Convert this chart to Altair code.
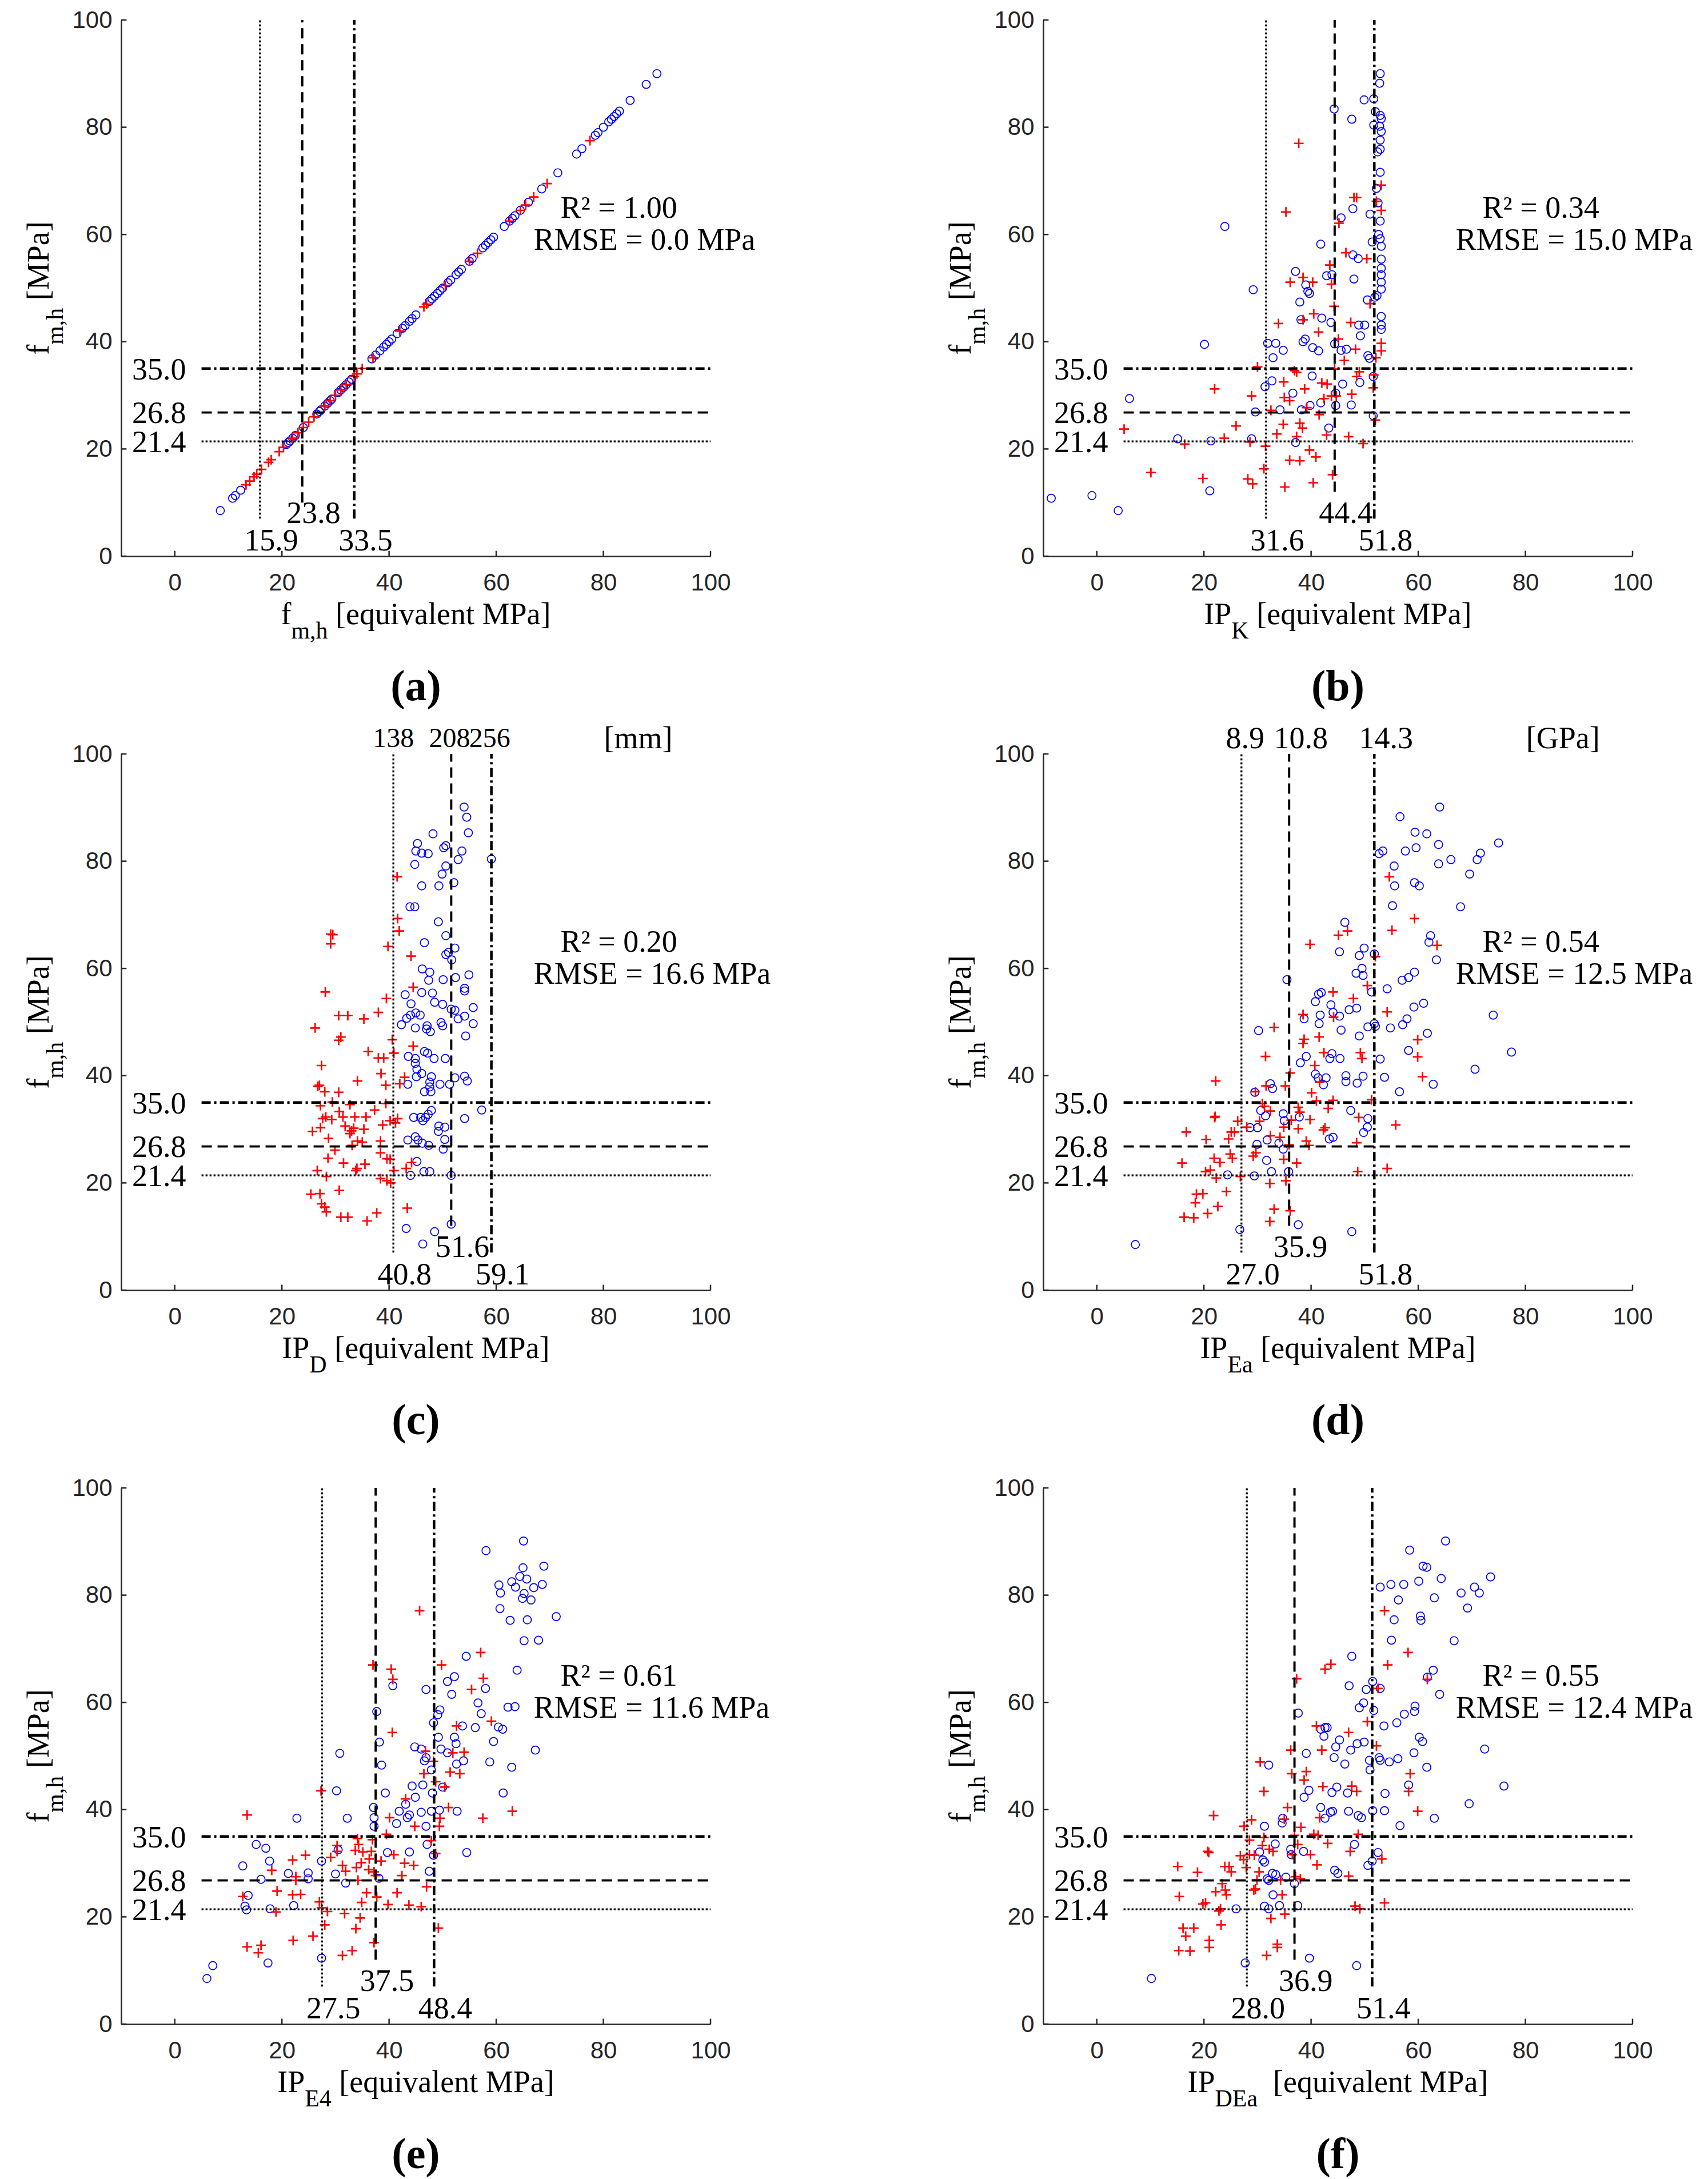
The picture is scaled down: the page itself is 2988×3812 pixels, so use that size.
import altair as alt
import pandas as pd

# ---- fm,h values (blue = circles, red = plus) ----
# panel (a): f_m,h plotted against itself, so x = y
a_blue = [8.5, 10.8, 11.3, 12.3, 20.8, 21.2, 21.5, 22.0, 22.5, 24.0, 26.5, 27.0, 27.3, 28.0,
          28.5, 29.0, 29.3, 30.5, 31.0, 31.5, 32.0, 32.5, 33.0, 36.8, 37.5, 38.3, 39.0, 39.5,
          40.0, 40.5, 41.5, 42.5, 43.0, 43.8, 44.3, 45.0, 47.5, 48.0, 48.5, 49.0, 49.5, 50.0,
          51.0, 51.5, 52.5, 53.0, 53.5, 55.0, 55.5, 57.5, 58.0, 58.5, 59.0, 59.5, 61.5, 62.5,
          63.0, 63.5, 64.5, 66.0, 68.5, 71.5, 75.0, 76.0, 78.5, 79.0, 80.0, 81.0, 81.5, 82.0,
          82.5, 83.0, 85.0, 88.0, 90.0]
a_red = [13.3, 14.0, 14.8, 15.3, 16.2, 17.5, 18.0, 19.5, 20.3, 22.0, 23.0, 24.0, 25.0, 26.0,
         28.0, 29.0, 30.0, 31.0, 32.0, 33.5, 34.0, 35.0, 37.0, 42.0, 46.5, 47.0, 50.5, 55.0,
         56.5, 62.5, 64.5, 65.5, 67.0, 69.5, 77.5]

b_blue = [(-8.5, 10.8), (-0.9, 11.3), (4.0, 8.5), (6.1, 29.4), (15.1, 21.9), (20.1, 39.5),
          (21.3, 21.5), (21.1, 12.2), (23.9, 61.5), (28.9, 21.9), (29.2, 49.7), (29.6, 26.9),
          (31.4, 31.6), (31.9, 39.7), (32.7, 32.7), (32.9, 37.0), (33.4, 39.7), (34.2, 27.3),
          (34.8, 38.4), (36.6, 30.4), (37.1, 53.1), (37.1, 21.2), (37.9, 47.4), (38.1, 44.1),
          (38.2, 27.3), (38.5, 40.0), (38.9, 40.5), (39.0, 50.6), (39.4, 49.4), (39.7, 49.0),
          (39.8, 28.1), (40.2, 33.6), (40.3, 38.9), (41.4, 38.3), (41.8, 58.2), (41.8, 28.6),
          (42.0, 44.4), (42.9, 52.3), (43.3, 23.9), (43.7, 43.6), (43.9, 52.5), (44.3, 83.4),
          (44.4, 39.6), (44.6, 30.4), (44.6, 28.1), (45.6, 63.1), (45.6, 38.4), (45.9, 32.1),
          (46.6, 38.6), (47.5, 28.2), (47.6, 81.5), (47.8, 64.8), (47.8, 56.2), (48.0, 51.7),
          (48.8, 55.5), (48.9, 43.1), (49.2, 41.1), (49.1, 32.4), (49.9, 85.1), (50.0, 43.1),
          (50.5, 47.8), (50.6, 37.4), (50.9, 36.9), (51.0, 63.8), (51.4, 58.6), (51.6, 33.5),
          (51.6, 26.2), (51.7, 85.3), (51.7, 80.4), (51.9, 48.3), (52.0, 82.9), (52.2, 68.6),
          (52.3, 48.6), (52.4, 75.4), (52.5, 65.9), (52.6, 60.0), (52.8, 88.2), (52.9, 90.0),
          (52.9, 82.2), (53.1, 81.6), (53.1, 79.2), (52.9, 77.6), (52.9, 75.9), (52.9, 71.6),
          (52.9, 62.5), (52.9, 59.2), (53.1, 57.8), (53.1, 55.4), (53.1, 53.7), (53.1, 52.5),
          (53.1, 51.1), (53.1, 49.8), (53.1, 44.7), (53.1, 43.1), (53.1, 42.3), (52.8, 80.2)]
b_red = [(5.1, 23.7), (10.1, 15.6), (16.4, 20.9), (19.8, 14.5), (22.0, 31.2), (23.8, 22.0),
         (26.0, 24.3), (28.2, 14.4), (28.6, 21.3), (28.9, 29.9), (29.1, 13.5), (30.0, 35.3),
         (31.2, 16.3), (31.5, 20.5), (32.5, 27.2), (33.6, 22.8), (33.9, 43.4), (34.8, 24.6),
         (35.1, 12.9), (35.3, 64.2), (35.0, 29.6), (34.9, 32.5), (36.0, 29.0), (36.1, 51.1),
         (36.0, 17.9), (36.9, 34.6), (37.3, 34.3), (37.3, 22.3), (37.7, 77.0), (37.9, 17.8),
         (37.9, 24.8), (38.4, 23.9), (38.5, 52.0), (38.5, 44.1), (38.8, 31.2), (39.2, 27.7),
         (39.7, 19.8), (40.3, 51.1), (40.4, 13.7), (40.5, 45.2), (40.9, 18.5), (41.4, 41.8),
         (41.5, 26.4), (42.0, 32.3), (42.4, 29.4), (42.9, 22.6), (43.0, 32.1), (43.5, 54.3),
         (43.8, 50.7), (43.8, 29.9), (44.0, 15.2), (44.3, 46.6), (44.4, 34.9), (44.7, 29.9),
         (45.1, 40.5), (45.2, 62.1), (46.2, 36.5), (46.5, 56.6), (47.0, 22.3), (47.4, 43.6),
         (47.6, 30.2), (48.0, 66.9), (48.5, 66.9), (48.3, 38.6), (48.5, 33.5), (49.0, 34.4),
         (49.7, 21.0), (50.4, 55.5), (51.0, 47.1), (51.6, 31.4), (51.7, 33.8), (52.0, 25.4),
         (52.2, 66.2), (53.1, 69.2), (53.1, 64.5), (53.1, 39.7), (53.1, 38.3), (52.1, 37.0)]

c_blue = [(43.2, 11.5), (46.3, 8.6), (48.5, 10.9), (51.6, 12.3), (51.6, 21.4), (44.0, 21.4),
          (46.5, 22.1), (47.6, 22.1), (45.2, 24.0), (43.5, 28.0), (44.9, 28.6), (45.4, 28.0),
          (46.2, 27.4), (47.4, 27.0), (50.1, 26.3), (50.4, 28.1), (49.2, 29.6), (49.3, 30.6),
          (50.4, 30.4), (44.6, 32.2), (45.9, 32.2), (46.3, 31.6), (46.8, 32.2), (47.3, 32.8),
          (47.9, 33.5), (54.1, 32.0), (57.3, 33.6), (46.6, 37.0), (47.8, 37.0), (47.6, 37.9),
          (47.6, 38.8), (49.5, 38.4), (51.3, 38.4), (43.5, 38.4), (45.1, 39.8), (46.1, 40.4),
          (47.9, 39.8), (52.3, 39.6), (54.1, 39.9), (54.6, 39.0), (45.2, 41.2), (44.9, 42.3),
          (44.9, 43.2), (43.6, 43.6), (46.6, 44.5), (47.2, 44.2), (48.4, 43.2), (50.5, 43.2),
          (42.3, 49.5), (43.3, 50.7), (44.0, 51.3), (45.0, 51.7), (45.8, 51.3), (44.9, 48.9),
          (47.0, 48.7), (47.1, 49.3), (47.7, 48.2), (49.7, 49.9), (50.0, 49.3), (50.0, 53.3),
          (48.5, 53.7), (48.1, 55.4), (44.1, 53.4), (43.0, 55.1), (46.1, 55.5), (51.6, 52.4),
          (52.3, 52.2), (52.9, 50.6), (54.1, 51.1), (55.7, 52.7), (55.7, 49.7), (54.3, 47.4),
          (54.1, 56.3), (54.1, 55.8), (54.9, 58.8), (52.4, 58.3), (50.1, 57.9), (47.4, 57.8),
          (47.6, 59.3), (46.2, 59.9), (46.6, 64.8), (50.6, 62.6), (51.1, 63.0), (51.7, 61.6),
          (52.3, 63.8), (50.6, 66.1), (49.2, 68.7), (43.9, 71.5), (44.8, 71.5), (46.1, 75.4),
          (49.3, 75.4), (52.1, 76.0), (49.9, 77.6), (50.6, 79.1), (44.8, 79.4), (52.9, 80.3),
          (59.1, 80.4), (45.0, 81.9), (46.1, 81.5), (47.3, 81.4), (45.3, 83.3), (50.2, 82.5),
          (50.6, 82.9), (53.6, 81.9), (48.2, 85.1), (54.8, 85.3), (54.5, 88.2), (54.0, 90.1)]
c_red = [(25.4, 17.9), (27.1, 18.0), (27.4, 16.1), (28.0, 15.5), (28.3, 14.6), (30.7, 18.6),
         (31.0, 13.6), (32.3, 13.6), (35.9, 12.9), (37.7, 14.4), (43.4, 15.3), (28.3, 21.2),
         (26.6, 22.3), (31.5, 23.7), (29.9, 26.1), (28.6, 24.6), (34.0, 22.7), (33.8, 22.3),
         (35.5, 23.5), (38.4, 20.8), (39.6, 20.4), (40.3, 20.0), (40.9, 22.3), (43.2, 22.7),
         (44.2, 23.8), (39.6, 24.5), (38.4, 25.6), (40.2, 24.4), (25.7, 29.6), (27.2, 30.3),
         (27.6, 32.0), (28.2, 32.3), (28.7, 28.3), (29.3, 31.8), (30.7, 33.3), (31.4, 32.3),
         (31.8, 30.6), (32.7, 29.2), (33.0, 29.7), (33.6, 32.3), (33.4, 30.2), (34.1, 27.8),
         (33.1, 27.0), (35.0, 27.6), (35.3, 30.0), (35.7, 32.3), (37.3, 33.6), (38.8, 30.8),
         (38.4, 27.8), (40.2, 31.6), (41.2, 31.2), (41.6, 32.0), (39.4, 34.8), (27.2, 34.4),
         (29.4, 35.1), (32.7, 34.6), (30.6, 36.9), (28.0, 37.0), (27.0, 38.2), (26.7, 38.0),
         (34.1, 39.0), (39.4, 38.2), (38.5, 40.4), (42.0, 38.5), (42.9, 39.7), (27.4, 41.9),
         (36.1, 44.5), (38.0, 43.3), (39.0, 43.3), (40.9, 44.2), (44.5, 45.5), (40.6, 46.7),
         (30.6, 46.6), (31.0, 47.2), (26.2, 48.9), (35.3, 50.6), (38.0, 51.8), (30.6, 51.2),
         (32.3, 51.2), (39.5, 54.4), (44.5, 56.5), (28.1, 55.6), (39.8, 64.1), (44.1, 62.3),
         (29.1, 64.6), (29.1, 66.4), (29.5, 66.3), (41.9, 67.0), (41.6, 69.3), (41.5, 77.1)]

d_blue = [(7.2, 8.5), (26.7, 11.3), (37.6, 12.2), (47.6, 10.9), (24.4, 21.5), (29.4, 21.3),
          (32.6, 22.1), (35.8, 22.1), (31.7, 24.2), (34.8, 26.3), (34.0, 27.4), (29.9, 27.2),
          (31.8, 28.0), (43.4, 28.2), (44.1, 28.5), (30.6, 33.5), (31.5, 32.5), (34.8, 32.9),
          (35.0, 31.6), (37.8, 32.3), (28.6, 30.3), (30.0, 30.3), (47.4, 33.5), (49.8, 29.4),
          (50.5, 30.4), (50.6, 32.0), (29.5, 36.9), (32.4, 38.5), (32.8, 37.6), (38.0, 42.4),
          (39.1, 43.6), (40.8, 40.3), (41.3, 39.6), (42.3, 38.3), (42.8, 39.6), (43.5, 43.2),
          (43.9, 44.1), (45.4, 43.2), (46.5, 40.0), (46.5, 38.9), (48.6, 38.6), (49.7, 39.9),
          (53.7, 39.7), (56.5, 37.0), (62.8, 38.4), (52.9, 43.1), (58.2, 44.7), (61.7, 47.9),
          (57.1, 49.5), (54.8, 48.9), (57.9, 50.6), (59.2, 52.8), (61.0, 53.5), (30.2, 48.4),
          (38.7, 50.6), (41.5, 49.7), (41.7, 51.3), (44.1, 51.8), (45.3, 51.1), (45.6, 48.5),
          (47.1, 52.3), (48.5, 52.6), (49.0, 47.4), (50.6, 49.1), (51.8, 49.7), (52.0, 49.2),
          (40.8, 53.8), (41.4, 55.2), (41.9, 55.5), (43.7, 53.2), (51.3, 55.6), (54.2, 56.2),
          (35.5, 57.9), (48.4, 59.1), (49.7, 58.7), (49.5, 60.0), (49.0, 62.4), (49.9, 63.8),
          (51.8, 62.7), (45.3, 63.1), (46.3, 68.6), (57.0, 57.8), (58.2, 58.3), (59.3, 59.3),
          (63.4, 61.6), (62.0, 64.9), (62.3, 66.1), (55.2, 71.7), (67.9, 71.5), (55.6, 75.4),
          (59.3, 76.0), (60.2, 75.4), (69.6, 77.6), (55.5, 79.1), (63.8, 79.5), (66.1, 80.3),
          (71.0, 80.3), (71.6, 81.5), (52.7, 81.4), (53.4, 81.9), (57.6, 81.9), (59.6, 82.5),
          (63.8, 83.1), (75.0, 83.4), (59.4, 85.4), (61.6, 85.1), (56.6, 88.3), (64.0, 90.1),
          (74.0, 51.3), (77.4, 44.4), (70.6, 41.2)]
d_red = [(15.9, 23.7), (16.7, 29.5), (16.3, 13.6), (18.1, 13.5), (18.4, 16.3), (18.6, 17.9),
         (19.8, 18.0), (20.3, 22.1), (20.7, 14.3), (20.4, 28.1), (21.2, 22.4), (21.9, 24.6),
         (22.0, 32.2), (22.1, 32.4), (22.3, 20.9), (22.2, 39.0), (22.6, 15.6), (23.0, 23.8),
         (24.2, 18.4), (24.6, 28.2), (24.9, 25.4), (25.1, 29.5), (25.3, 24.6), (25.7, 29.5),
         (26.3, 31.5), (26.8, 21.2), (28.0, 30.4), (29.2, 25.0), (29.7, 25.6), (29.6, 37.0),
         (30.4, 31.5), (30.9, 34.8), (31.3, 34.3), (31.5, 43.6), (31.6, 38.1), (32.4, 28.8),
         (32.3, 19.9), (32.3, 12.8), (32.4, 33.4), (33.1, 15.1), (33.1, 49.0), (34.2, 28.5),
         (34.9, 30.4), (34.9, 24.4), (35.2, 38.1), (35.3, 20.4), (35.9, 27.1), (36.1, 14.8),
         (36.1, 40.5), (36.3, 31.7), (37.3, 23.7), (37.6, 34.1), (37.6, 30.1), (37.9, 33.2),
         (38.5, 51.4), (38.5, 46.0), (38.7, 46.8), (39.1, 27.8), (39.6, 27.0), (39.8, 31.8),
         (39.8, 64.5), (40.1, 36.8), (40.7, 41.9), (41.0, 35.3), (41.5, 47.2), (41.6, 38.8),
         (42.3, 29.9), (42.4, 44.3), (42.6, 30.3), (43.2, 33.9), (44.1, 55.6), (44.1, 35.4),
         (44.2, 50.9), (45.1, 66.2), (46.8, 67.0), (47.9, 54.4), (48.5, 27.5), (48.7, 22.1),
         (48.9, 32.2), (49.2, 44.3), (49.5, 43.2), (50.5, 56.8), (51.3, 35.5), (52.0, 62.2),
         (54.2, 51.9), (54.2, 22.7), (54.6, 77.1), (55.1, 67.1), (55.8, 30.8), (59.3, 69.3),
         (59.9, 46.7), (59.9, 43.5), (60.8, 39.8), (63.5, 64.3)]

e_blue = [(6.0, 8.5), (7.1, 10.9), (17.4, 11.4), (27.4, 12.3), (12.7, 29.5), (13.1, 22.0),
          (13.4, 21.3), (13.7, 24.0), (15.2, 33.5), (16.1, 27.0), (17.0, 32.8), (17.7, 30.4),
          (17.8, 21.5), (21.2, 28.1), (22.2, 22.1), (22.8, 38.4), (24.9, 28.2), (24.9, 27.1),
          (27.4, 30.4), (30.0, 28.0), (30.5, 32.5), (30.8, 50.5), (30.2, 43.5), (31.9, 26.3),
          (32.2, 38.4), (37.1, 40.4), (37.2, 38.5), (37.2, 36.9), (37.7, 58.3), (38.1, 27.2),
          (38.2, 52.6), (38.6, 48.3), (39.3, 43.1), (39.7, 32.0), (41.4, 37.4), (41.9, 39.7),
          (40.7, 63.1), (43.1, 41.0), (43.4, 38.5), (43.8, 39.0), (43.8, 32.1), (44.3, 44.4),
          (44.8, 51.7), (44.9, 42.3), (46.0, 51.3), (46.0, 39.5), (46.3, 44.6), (46.6, 49.1),
          (46.9, 49.7), (46.9, 36.9), (47.1, 33.5), (47.5, 28.5), (46.9, 62.4), (47.9, 39.7),
          (47.9, 47.4), (48.1, 43.1), (48.3, 56.2), (48.3, 31.5), (49.1, 57.7), (49.2, 53.5),
          (49.4, 39.9), (49.5, 58.6), (49.7, 51.3), (50.0, 44.2), (50.9, 63.9), (50.9, 50.6),
          (51.7, 61.5), (52.2, 64.8), (52.2, 53.5), (52.5, 52.3), (52.6, 48.5), (52.7, 39.7),
          (53.7, 55.6), (53.9, 49.1), (54.4, 68.6), (54.5, 32.0), (56.1, 55.3), (56.6, 59.9),
          (57.2, 57.9), (58.0, 62.6), (58.1, 88.3), (58.8, 48.9), (59.5, 52.7), (60.4, 55.4),
          (60.5, 81.9), (60.8, 80.4), (60.7, 77.5), (61.2, 55.0), (61.3, 43.1), (62.2, 59.1),
          (62.6, 75.3), (62.9, 47.9), (62.9, 82.5), (63.6, 81.5), (63.5, 59.2), (63.9, 66.0),
          (64.4, 83.5), (65.0, 85.1), (64.9, 79.4), (65.2, 80.3), (65.1, 90.1), (65.2, 71.5),
          (65.7, 83.0), (65.8, 75.4), (66.5, 79.1), (67.0, 81.4), (67.3, 51.1), (67.9, 71.6),
          (68.6, 82.0), (68.9, 85.4), (71.2, 76.0)]
e_red = [(12.7, 23.8), (13.5, 39.0), (13.5, 14.4), (15.6, 13.3), (16.1, 14.7), (18.1, 28.7),
         (18.9, 20.9), (19.1, 24.8), (22.0, 30.6), (22.0, 24.1), (22.1, 15.6), (22.6, 27.5),
         (22.6, 26.8), (23.5, 24.2), (24.4, 31.5), (25.8, 16.4), (27.3, 43.5), (27.0, 22.8),
         (27.4, 21.7), (28.0, 18.5), (28.5, 21.0), (29.1, 31.1), (30.3, 33.3), (30.3, 32.2),
         (31.3, 29.6), (31.3, 12.8), (31.7, 20.6), (31.9, 28.5), (33.1, 13.7), (33.7, 32.4),
         (33.8, 17.8), (33.9, 29.2), (34.1, 34.6), (34.2, 26.8), (34.3, 33.5), (34.6, 19.8),
         (34.8, 30.1), (34.9, 22.7), (35.1, 32.1), (35.8, 24.5), (36.2, 28.8), (36.3, 30.8),
         (36.7, 32.2), (36.9, 34.4), (37.0, 67.0), (37.2, 15.2), (37.2, 28.4), (37.5, 27.7),
         (37.7, 23.7), (38.5, 30.4), (39.5, 35.4), (39.8, 22.3), (40.1, 38.5), (40.4, 66.2),
         (40.7, 64.3), (40.6, 54.4), (40.9, 31.6), (41.5, 24.5), (42.4, 27.7), (42.9, 30.0),
         (43.1, 42.0), (43.7, 22.2), (44.6, 29.6), (44.8, 36.9), (45.7, 77.1), (46.0, 21.9),
         (46.5, 46.7), (46.8, 50.9), (47.0, 25.6), (47.9, 34.2), (48.3, 49.0), (48.7, 45.2),
         (48.7, 31.8), (49.2, 17.9), (49.4, 36.9), (49.5, 38.4), (49.8, 67.0), (50.4, 44.2),
         (51.1, 40.4), (51.4, 47.0), (51.9, 50.6), (52.6, 55.6), (53.2, 46.7), (54.0, 50.7),
         (55.4, 62.4), (57.1, 69.3), (57.5, 38.4), (57.6, 64.5), (59.1, 56.5), (63.0, 39.7)]

f_blue = [(10.2, 8.5), (27.7, 11.4), (39.7, 12.3), (48.5, 10.9), (26.0, 21.5), (31.3, 22.0),
          (32.1, 21.5), (34.1, 22.1), (37.5, 22.1), (32.9, 24.1), (36.9, 26.2), (31.8, 27.1),
          (32.1, 26.8), (32.8, 28.1), (33.4, 27.9), (35.3, 27.4), (44.4, 28.7), (45.0, 28.1),
          (30.4, 32.1), (31.0, 30.6), (31.3, 30.2), (33.3, 33.6), (36.2, 32.6), (36.3, 31.6),
          (38.6, 32.2), (48.1, 33.5), (50.6, 29.6), (51.4, 30.4), (52.5, 32.0), (31.3, 36.9),
          (34.7, 38.4), (34.6, 37.5), (38.7, 42.3), (39.6, 43.6), (41.8, 40.4), (42.6, 38.4),
          (43.6, 39.5), (44.0, 39.7), (43.9, 43.2), (44.8, 44.2), (46.8, 43.1), (47.0, 39.7),
          (48.8, 38.9), (49.4, 38.5), (51.5, 39.8), (53.7, 39.8), (53.8, 43.0), (56.6, 37.0),
          (63.0, 38.4), (58.2, 44.6), (61.6, 47.9), (54.6, 48.9), (56.2, 49.5), (59.2, 50.6),
          (60.8, 52.7), (60.2, 53.5), (32.1, 48.3), (39.1, 50.5), (44.3, 49.7), (44.6, 51.7),
          (45.3, 53.0), (46.3, 48.5), (47.4, 51.1), (48.6, 52.3), (49.9, 52.6), (50.9, 49.2),
          (51.0, 47.4), (52.7, 49.7), (52.9, 49.2), (42.4, 53.7), (41.8, 55.0), (42.6, 55.3),
          (43.0, 55.3), (53.6, 55.6), (56.0, 56.2), (57.4, 57.8), (59.3, 58.3), (59.4, 59.3),
          (37.6, 58.0), (49.0, 59.0), (49.8, 59.9), (51.7, 58.5), (50.3, 62.4), (51.5, 63.9),
          (52.9, 62.6), (47.1, 63.1), (64.0, 61.5), (61.7, 64.7), (62.8, 66.0), (47.6, 68.6),
          (55.0, 71.6), (66.7, 71.5), (55.5, 75.4), (60.4, 76.1), (60.5, 75.3), (69.2, 77.6),
          (56.3, 79.1), (63.0, 79.5), (68.0, 80.4), (71.4, 80.4), (70.5, 81.5), (52.9, 81.5),
          (54.9, 82.0), (57.3, 82.0), (60.1, 82.6), (64.3, 83.1), (73.5, 83.4), (60.9, 85.4),
          (61.6, 85.2), (58.4, 88.4), (65.1, 90.1), (72.4, 51.3), (76.0, 44.4), (69.5, 41.1)]
f_red = [(15.1, 29.4), (15.4, 23.8), (15.3, 13.7), (16.1, 17.9), (16.6, 16.4), (17.4, 13.6),
         (18.1, 17.9), (18.8, 28.3), (19.8, 22.4), (20.3, 22.6), (20.7, 32.2), (20.9, 32.0),
         (21.0, 15.6), (21.0, 14.3), (21.8, 38.9), (22.2, 24.7), (22.8, 21.1), (23.1, 21.5),
         (23.2, 18.5), (23.4, 26.2), (23.9, 29.4), (24.0, 25.0), (24.2, 24.1), (24.7, 29.4),
         (25.1, 28.4), (26.8, 31.4), (27.4, 30.7), (27.5, 36.9), (27.9, 29.2), (28.5, 31.6),
         (28.9, 38.1), (28.5, 34.3), (29.4, 31.5), (29.3, 25.0), (29.6, 25.2), (29.9, 26.9),
         (30.5, 48.9), (30.3, 28.4), (30.9, 33.3), (31.2, 43.4), (31.2, 34.8), (31.7, 12.8),
         (32.2, 32.6), (32.5, 19.7), (32.9, 32.2), (33.7, 14.9), (33.7, 14.3), (34.3, 26.9),
         (34.6, 24.1), (35.0, 38.2), (35.1, 20.5), (35.6, 40.4), (36.2, 51.1), (36.4, 46.7),
         (36.5, 31.6), (36.9, 35.2), (37.1, 27.5), (37.3, 64.4), (37.5, 33.5), (38.0, 27.1),
         (38.1, 36.7), (38.7, 45.5), (39.1, 47.1), (39.9, 31.6), (40.5, 35.4), (41.0, 55.6),
         (41.1, 29.7), (41.3, 35.2), (41.6, 38.5), (42.0, 51.1), (42.2, 44.3), (42.6, 66.2),
         (43.1, 33.7), (43.7, 67.1), (47.0, 54.4), (47.0, 27.6), (47.3, 32.2), (47.6, 44.4),
         (48.2, 22.0), (48.5, 43.4), (48.8, 35.4), (49.1, 21.5), (50.5, 56.4), (52.2, 51.9),
         (52.5, 62.6), (53.2, 30.8), (53.7, 77.1), (53.7, 22.6), (54.3, 67.0), (58.1, 69.3),
         (58.5, 46.7), (58.2, 43.4), (59.9, 39.7), (61.7, 64.3)]

# thresholds
h_levels = [21.4, 26.8, 35.0]
a_v = [15.9, 23.8, 33.5]
b_v = [31.6, 44.4, 51.8]
c_v = [40.8, 51.6, 59.1]
d_v = [27.0, 35.9, 51.8]
e_v = [27.5, 37.5, 48.4]
f_v = [28.0, 36.9, 51.4]
stats = {"a": ("1.00", "0.0"), "b": ("0.34", "15.0"), "c": ("0.20", "16.6"),
         "d": ("0.54", "12.5"), "e": ("0.61", "11.6"), "f": ("0.55", "12.4")}
c_top = [(40.8, "138"), (51.3, "208"), (58.8, "256")]
d_top = [(27.7, "8.9"), (38.1, "10.8"), (54.0, "14.3")]

SERIF = "Liberation Serif, Times New Roman, serif"
SANS = "Liberation Sans, Arial, Helvetica, sans-serif"
W, H = 1031, 938
FS = 54
SUB = 42
DASHES = [[3.5, 3.5], [18, 10], [16, 6, 4, 6]]
WIDTHS = [3.4, 4.5, 4.0]
PLUS = "M-1,0H1M0,-1V1"

TIMES = {" ": 250, "[": 333, "]": 333, ",": 250, "a": 444, "e": 444, "f": 333, "h": 500,
         "i": 278, "l": 278, "m": 778, "n": 500, "q": 500, "t": 278, "u": 500, "v": 500,
         "D": 722, "E": 611, "I": 333, "K": 722, "M": 889, "P": 556, "4": 500}


def tw(s, size):
    return sum(TIMES.get(ch, 500) for ch in s) * size / 1000.0


xs = alt.Scale(domain=[-10, 100], nice=False, zero=False)
ys = alt.Scale(domain=[0, 100], nice=False)
XA = alt.Axis(values=[0, 20, 40, 60, 80, 100], title=None)
YA = alt.Axis(values=[0, 20, 40, 60, 80, 100], title=None)


def ex(f):
    return alt.X(f, type="quantitative", scale=xs, axis=XA)


def ey(f):
    return alt.Y(f, type="quantitative", scale=ys, axis=YA)


def pix_text(s, px, py, size=FS, angle=0, weight="normal", align="left"):
    return alt.Chart(pd.DataFrame({"s": [s]})).mark_text(
        font=SERIF, fontSize=size, angle=angle, fontWeight=weight, align=align,
        baseline="alphabetic", color="black"
    ).encode(x=alt.value(px), y=alt.value(py), text="s:N")


def xtitle(main, sub, gap):
    rest = "[equivalent MPa]"
    w1, ws, wg = tw(main, FS), tw(sub, SUB), tw(gap, FS)
    total = w1 + ws + wg + tw(rest, FS)
    x0 = W / 2 - total / 2
    base = H + 119
    return [pix_text(main, x0, base), pix_text(sub, x0 + w1, base + 25, SUB),
            pix_text(rest, x0 + w1 + ws + wg, base)]


def ytitle():
    w1, ws, wg = tw("f", FS), tw("m,h", SUB), tw(" ", FS)
    total = w1 + ws + wg + tw("[MPa]", FS)
    y0 = H / 2 + total / 2
    bx = -127
    return [pix_text("f", bx, y0, angle=270), pix_text("m,h", bx + 25, y0 - w1, SUB, angle=270),
            pix_text("[MPa]", bx, y0 - w1 - ws - wg, angle=270)]


def panel(letter, blue, red, vx, xmain, xsub, gap=" ", mid_end=12, top=None, unit=None,
          top_size=FS, ghost_top=False):
    bdf = pd.DataFrame(blue, columns=["x", "y"])
    rdf = pd.DataFrame(red, columns=["x", "y"])
    layers = []
    # inward ticks
    xt = pd.DataFrame({"t": [0, 20, 40, 60, 80, 100], "a": 0.0, "b": 1.0})
    yt = pd.DataFrame({"t": [0, 20, 40, 60, 80, 100], "a": -10.0, "b": -9.0})
    layers.append(alt.Chart(xt).mark_rule(color="#262626", strokeWidth=2.5).encode(
        x=ex("t"), y=ey("a"), y2="b"))
    layers.append(alt.Chart(yt).mark_rule(color="#262626", strokeWidth=2.5).encode(
        y=ey("t"), x=ex("a"), x2="b"))
    layers.append(alt.Chart(bdf).mark_point(shape="circle", filled=False, color="#0000ff",
                                            size=200, strokeWidth=1.7, opacity=1).encode(
        x=ex("x"), y=ey("y")))
    layers.append(alt.Chart(rdf).mark_point(shape=PLUS, filled=False, color="#ff0000",
                                            size=290, strokeWidth=2.7, opacity=1).encode(
        x=ex("x"), y=ey("y")))
    dash = alt.StrokeDash("k:N", scale=alt.Scale(domain=["0", "1", "2"], range=DASHES),
                          legend=None)
    width = alt.StrokeWidth("k:N", scale=alt.Scale(domain=["0", "1", "2"], range=WIDTHS),
                            legend=None)
    hdf = pd.DataFrame({"y": h_levels, "x0": 5.0, "x1": 100.0, "k": ["0", "1", "2"],
                        "t": [f"{v:.1f}" for v in h_levels], "lx": 2.1,
                        "ly": [v - 0.3 for v in h_levels]})
    layers.append(alt.Chart(hdf).mark_rule(color="black").encode(
        y=ey("y"), x=ex("x0"), x2="x1", strokeDash=dash, strokeWidth=width))
    layers.append(alt.Chart(hdf).mark_text(font=SERIF, fontSize=FS, align="right",
                                           baseline="middle", color="black").encode(
        x=ex("lx"), y=ey("ly"), text="t:N"))
    vdf = pd.DataFrame({"x": vx, "y0": [7.0, mid_end, 7.0], "y1": 100.0, "k": ["0", "1", "2"],
                        "t": [f"{v:.1f}" for v in vx], "lx": [v + 2.1 for v in vx],
                        "ly": [2.8, 7.9, 2.8]})
    layers.append(alt.Chart(vdf).mark_rule(color="black").encode(
        x=ex("x"), y=ey("y0"), y2="y1", strokeDash=dash, strokeWidth=width))
    layers.append(alt.Chart(vdf).mark_text(font=SERIF, fontSize=FS, align="center",
                                           baseline="middle", color="black").encode(
        x=ex("lx"), y=ey("ly"), text="t:N"))
    r2, rmse = stats[letter]
    sdf = pd.DataFrame({"x": [72.0, 67.0], "y": [64.8, 58.8],
                        "t": [f"R\u00b2 = {r2}", f"RMSE = {rmse} MPa"]})
    layers.append(alt.Chart(sdf).mark_text(font=SERIF, fontSize=FS, align="left",
                                           baseline="middle", color="black").encode(
        x=ex("x"), y=ey("y"), text="t:N"))
    if top:
        tdf = pd.DataFrame(top, columns=["x", "t"]).assign(y=102.8)
        layers.append(alt.Chart(tdf).mark_text(font=SERIF, fontSize=top_size, align="center",
                                               baseline="middle", color="black").encode(
            x=ex("x"), y=ey("y"), text="t:N"))
    if unit:
        udf = pd.DataFrame({"x": [unit[0]], "y": [102.8], "t": [unit[1]]})
        layers.append(alt.Chart(udf).mark_text(font=SERIF, fontSize=FS, align="center",
                                               baseline="middle", color="black").encode(
            x=ex("x"), y=ey("y"), text="t:N"))
    if ghost_top:
        # invisible spacer so this row reserves the same head room as row (c)/(d)
        gdf = pd.DataFrame({"x": [45.0], "y": [102.8], "t": ["[mm]"]})
        layers.append(alt.Chart(gdf).mark_text(font=SERIF, fontSize=FS, baseline="middle",
                                               opacity=0).encode(
            x=ex("x"), y=ey("y"), text="t:N"))
    layers += xtitle(xmain, xsub, gap)
    layers += ytitle()
    layers.append(pix_text(f"({letter})", W / 2, H + 252, size=76, weight="bold",
                           align="center"))
    return alt.layer(*layers).properties(width=W, height=H)


a_pairs = [(v, v) for v in a_blue]
a_rpairs = [(v, v) for v in a_red]

pa = panel("a", a_pairs, a_rpairs, a_v, "f", "m,h", mid_end=10)
pb = panel("b", b_blue, b_red, b_v, "IP", "K")
pc = panel("c", c_blue, c_red, c_v, "IP", "D", top=c_top, unit=(86.5, "[mm]"), top_size=48)
pd_ = panel("d", d_blue, d_red, d_v, "IP", "Ea", top=d_top, unit=(87.0, "[GPa]"))
pe = panel("e", e_blue, e_red, e_v, "IP", "E4", ghost_top=True)
pf = panel("f", f_blue, f_red, f_v, "IP", "DEa", gap="  ", ghost_top=True)

chart = alt.concat(pa, pb, pc, pd_, pe, pf, columns=2,
                   spacing={"row": 25, "column": 305}).properties(
    padding={"left": 33, "top": 6, "right": 5, "bottom": 5},
    background="white"
).configure_view(stroke=None).configure_axis(
    labelFont=SANS, labelFontSize=42, labelColor="#262626", domainColor="#262626",
    domainWidth=2.5, ticks=False, grid=False, labelFlush=False, labelOverlap=False
).configure_axisX(labelPadding=26).configure_axisY(labelPadding=16)

chart.save("out.html", embed_options={"renderer": "svg", "actions": False})
